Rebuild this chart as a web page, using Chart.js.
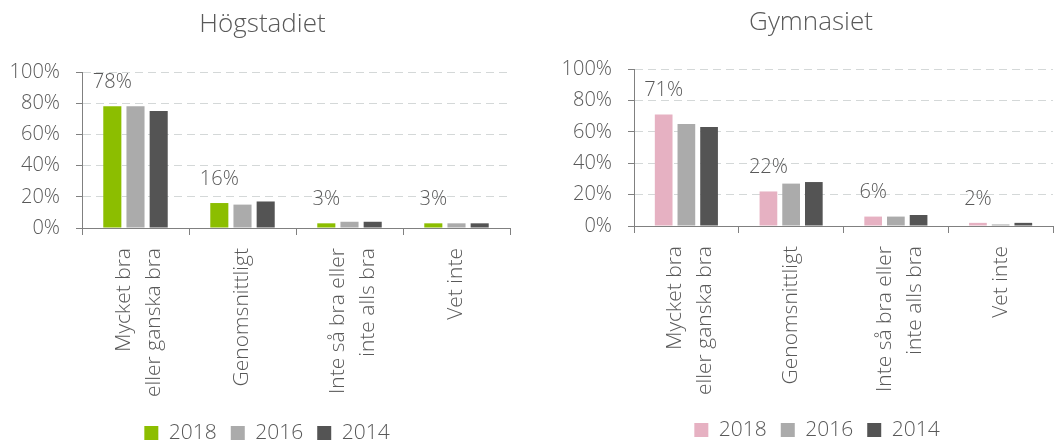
<!DOCTYPE html>
<html>
<head>
<meta charset="utf-8">
<script src="https://cdn.jsdelivr.net/npm/chart.js@4.4.0/dist/chart.umd.min.js"></script>
<style>
  body { margin: 0; background: #fff; }
  canvas { position: absolute; top: 0; }
  #left { left: 0; }
  #right { left: 528px; }
</style>
</head>
<body>
<canvas id="left" width="528" height="443"></canvas>
<canvas id="right" width="528" height="443"></canvas>
<script>
// kategorier och värden (procent)
const categories = [["Mycket bra", "eller ganska bra"], "Genomsnittligt", ["Inte så bra eller", "inte alls bra"], "Vet inte"];
const years = ["2018", "2016", "2014"];
const yTicks = [0, 20, 40, 60, 80, 100];

const hog2018 = [78, 16, 3, 3];
const hog2016 = [78, 15, 4, 3];
const hog2014 = [75, 17, 4, 3];

const gym2018 = [71, 22, 6, 2];
const gym2016 = [65, 27, 6, 1];
const gym2014 = [63, 28, 7, 2];

const FONT = "'Open Sans', sans-serif";
const TEXT = "#595959";
const AXIS = "#808080";
const CAT_LINE = 30;

// skriver procent ovanför 2018-staplarna
const barLabels = {
  id: "barLabels",
  afterDatasetsDraw(chart) {
    const ctx = chart.ctx;
    const meta = chart.getDatasetMeta(0);
    ctx.save();
    ctx.font = "300 20px " + FONT;
    ctx.fillStyle = TEXT;
    ctx.textAlign = "center";
    ctx.textBaseline = "middle";
    meta.data.forEach(function (bar, i) {
      ctx.fillText(chart.data.datasets[0].data[i] + "%", bar.x, bar.y - 24);
    });
    ctx.restore();
  }
};

// flyttar titel och legend i sidled, och centrerar tvåradiga etiketter
const shiftBoxes = {
  id: "shiftBoxes",
  afterLayout(chart, args, opts) {
    chart.titleBlock.left += opts.title;
    chart.titleBlock.right += opts.title;
    chart.legend.left += opts.legend;
    chart.legend.right += opts.legend;
  },
  beforeDraw(chart) {
    const items = chart.scales.x.getLabelItems(chart.chartArea);
    items.forEach(function (it) {
      if (Array.isArray(it.label) && !it._moved) {
        it.options.translation[0] -= (CAT_LINE * (it.label.length - 1)) / 2 - 4;
        it._moved = true;
      }
    });
  }
};

function makeChart(id, title, d2018, d2016, d2014, color, lay) {
  const ctx = document.getElementById(id).getContext("2d");
  return new Chart(ctx, {
    type: "bar",
    data: {
      labels: categories,
      datasets: [
        { label: years[0], data: d2018, backgroundColor: color },
        { label: years[1], data: d2016, backgroundColor: "#ABABAB" },
        { label: years[2], data: d2014, backgroundColor: "#545454" }
      ]
    },
    options: {
      responsive: false,
      animation: false,
      devicePixelRatio: 1,
      categoryPercentage: 0.65,
      barPercentage: 0.78,
      layout: { padding: { left: 0, right: lay.padR, top: 0, bottom: lay.padB } },
      plugins: {
        shiftBoxes: { title: lay.titleDx, legend: lay.legendDx },
        title: {
          display: true,
          text: title,
          color: TEXT,
          font: { family: FONT, size: 26, weight: 300 },
          padding: { top: lay.titleTop, bottom: lay.titleBottom }
        },
        legend: {
          position: "bottom",
          labels: {
            color: TEXT,
            font: { family: FONT, size: 21, weight: 300 },
            boxWidth: 14,
            boxHeight: 14,
            padding: 14
          }
        },
        tooltip: { enabled: false }
      },
      scales: {
        x: {
          afterFit: function (scale) { scale.height = lay.xHeight; },
          grid: { drawOnChartArea: false, drawTicks: true, tickLength: 7, color: AXIS },
          border: { color: AXIS },
          ticks: {
            color: TEXT,
            font: { family: FONT, size: 21, weight: 300, lineHeight: CAT_LINE / 21 },
            minRotation: 90,
            maxRotation: 90,
            autoSkip: false,
            padding: 13
          }
        },
        y: {
          min: 0,
          max: 100,
          afterFit: function (scale) { scale.width = lay.yWidth; },
          afterBuildTicks: function (scale) {
            scale.ticks = yTicks.map(function (v) { return { value: v }; });
          },
          grid: { color: "#D4D8D8", tickColor: AXIS, tickLength: 6 },
          border: { color: AXIS, dash: [8, 5] },
          ticks: {
            color: TEXT,
            font: { family: FONT, size: 20, weight: 300 },
            padding: 16,
            callback: function (v) { return v + "%"; }
          }
        }
      }
    },
    plugins: [barLabels, shiftBoxes]
  });
}

makeChart("left", "Högstadiet", hog2018, hog2016, hog2014, "#8CBE00",
  { padR: 18, padB: -10.5, titleTop: 9, titleBottom: 31.8, xHeight: 180.5, yWidth: 82, titleDx: 7.5, legendDx: 12 });
makeChart("right", "Gymnasiet", gym2018, gym2016, gym2014, "#E6B1C2",
  { padR: 3, padB: -7.5, titleTop: 7, titleBottom: 30.8, xHeight: 179.5, yWidth: 106, titleDx: 20.5, legendDx: 26.5 });
</script>
</body>
</html>
